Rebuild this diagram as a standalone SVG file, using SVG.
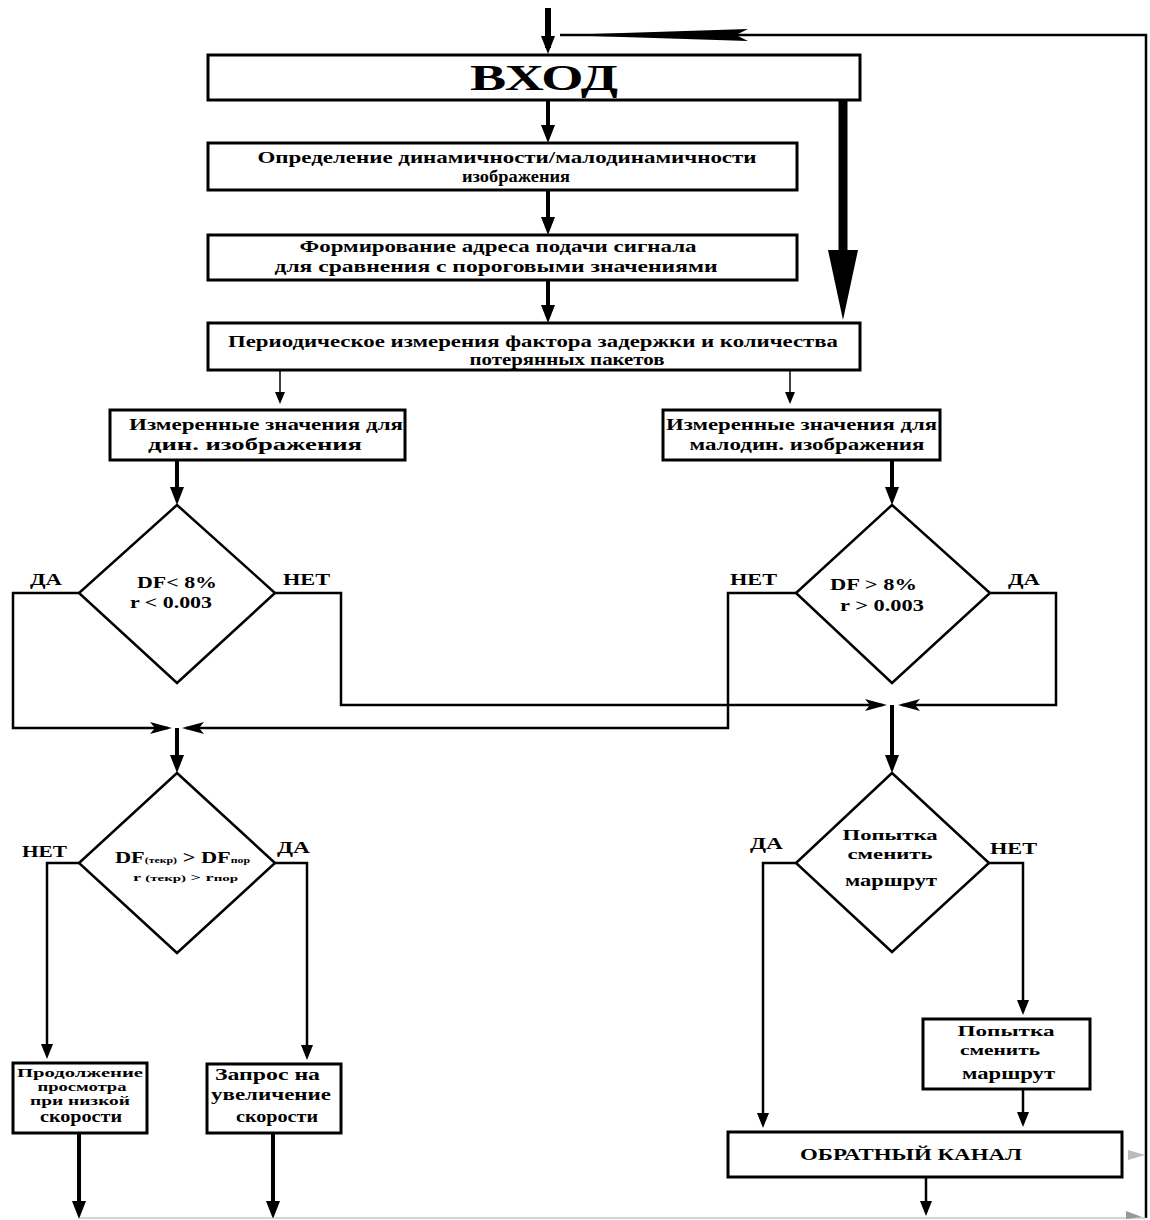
<svg xmlns="http://www.w3.org/2000/svg" width="1150" height="1220" viewBox="0 0 1150 1220">
<style>
.box{fill:#fff;stroke:#000;stroke-width:3}
.dia{fill:#fff;stroke:#000;stroke-width:2.5}
.t{font-family:"Liberation Serif","Times New Roman",serif;font-weight:bold;font-size:16.5px;fill:#000}
.m{text-anchor:middle}
.thick{fill:none;stroke:#000;stroke-width:4}
.med{fill:none;stroke:#000;stroke-width:2.5}
.thin{fill:none;stroke:#000;stroke-width:1.5}
.faint{fill:none;stroke:#aaa;stroke-width:1.2}
</style>
<defs>
<marker id="ah" markerUnits="userSpaceOnUse" markerWidth="20" markerHeight="16" refX="12" refY="7" orient="auto"><path d="M0,0 L18,7 L0,14 Z" fill="#000"/></marker>
<marker id="am" markerUnits="userSpaceOnUse" markerWidth="16" markerHeight="14" refX="11" refY="6" orient="auto"><path d="M0,0 L15,6 L0,12 Z" fill="#000"/></marker>
<marker id="as" markerUnits="userSpaceOnUse" markerWidth="14" markerHeight="12" refX="10" refY="5" orient="auto"><path d="M0,0 L12,5 L0,10 Z" fill="#000"/></marker>
<marker id="barb" markerUnits="userSpaceOnUse" markerWidth="24" markerHeight="14" refX="18" refY="6" orient="auto"><path d="M0,0 L22,6 L0,12 L5,6 Z" fill="#000"/></marker>
<marker id="big" markerUnits="userSpaceOnUse" markerWidth="74" markerHeight="32" refX="2" refY="15" orient="auto"><path d="M0,0 L70,15 L0,30 Z" fill="#000"/></marker>
<marker id="long" markerUnits="userSpaceOnUse" markerWidth="190" markerHeight="14" refX="188" refY="6" orient="auto"><path d="M188,6 L0,0 L12,6 L0,12 Z" fill="#000"/></marker>
</defs>

<g id="connectors">
<path class="med" d="M1146,1218 V35 H560" marker-end="url(#long)"/>
<line class="thick" x1="548" y1="8" x2="548" y2="48" style="stroke-width:6" marker-end="url(#ah)"/>
<line class="thick" x1="548" y1="100" x2="548" y2="137" marker-end="url(#ah)"/>
<line class="thick" x1="548" y1="190" x2="548" y2="229" marker-end="url(#ah)"/>
<line class="thick" x1="548" y1="280" x2="548" y2="317" marker-end="url(#ah)"/>
<line x1="843" y1="100" x2="843" y2="252" stroke="#000" stroke-width="9" marker-end="url(#big)"/>
<line class="thin" x1="280" y1="370" x2="280" y2="402" marker-end="url(#as)"/>
<line class="thin" x1="790" y1="370" x2="790" y2="402" marker-end="url(#as)"/>
<line class="thick" x1="177" y1="460" x2="177" y2="499" marker-end="url(#ah)"/>
<line class="thick" x1="892" y1="460" x2="892" y2="499" marker-end="url(#ah)"/>
<path class="med" d="M79,593 H13 V728 H168" marker-end="url(#barb)"/>
<path class="med" d="M796,593 H728 V728 H186" marker-end="url(#barb)"/>
<path class="med" d="M275,593 H341 V705 H883" marker-end="url(#barb)"/>
<path class="med" d="M990,593 H1056 V705 H902" marker-end="url(#barb)"/>
<line class="thick" x1="177" y1="728" x2="177" y2="767" marker-end="url(#ah)"/>
<line class="thick" x1="892" y1="705" x2="892" y2="767" marker-end="url(#ah)"/>
<path class="med" d="M79,863 H47 V1055" marker-end="url(#am)"/>
<path class="med" d="M275,863 H307 V1056" marker-end="url(#am)"/>
<path class="med" d="M796,863 H763 V1124" marker-end="url(#am)"/>
<path class="med" d="M989,863 H1023 V1011" marker-end="url(#am)"/>
<line class="med" x1="1023" y1="1089" x2="1023" y2="1123" marker-end="url(#am)"/>
<line class="thick" x1="79" y1="1133" x2="79" y2="1213" marker-end="url(#ah)"/>
<line class="thick" x1="273" y1="1133" x2="273" y2="1213" marker-end="url(#ah)"/>
<line class="med" x1="926" y1="1177" x2="926" y2="1212" marker-end="url(#am)"/>
<line class="faint" x1="79" y1="1218" x2="1146" y2="1218"/>
<path d="M1128,1150 L1145,1155 L1128,1160 Z" fill="#bbb"/>
<path d="M1126,1211 L1142,1217 L1126,1219 Z" fill="#999"/>
</g>

<g id="n_vhod">
<rect class="box" x="208" y="55" width="652" height="45"/>
<text class="t m" x="544" y="90" style="font-size:36px" textLength="148" lengthAdjust="spacingAndGlyphs">ВХОД</text>
</g>
<g id="n_opredelenie">
<rect class="box" x="208" y="143" width="589" height="47"/>
<text class="t m" x="507" y="163" textLength="499" lengthAdjust="spacingAndGlyphs">Определение динамичности/малодинамичности</text>
<text class="t m" x="516" y="182" textLength="108" lengthAdjust="spacingAndGlyphs">изображения</text>
</g>
<g id="n_formirovanie">
<rect class="box" x="208" y="235" width="589" height="45"/>
<text class="t m" x="498" y="252" textLength="397" lengthAdjust="spacingAndGlyphs">Формирование адреса подачи сигнала</text>
<text class="t m" x="496" y="272" textLength="443" lengthAdjust="spacingAndGlyphs">для сравнения с пороговыми значениями</text>
</g>
<g id="n_izmerenie">
<rect class="box" x="208" y="323" width="652" height="47"/>
<text class="t m" x="533" y="347" textLength="610" lengthAdjust="spacingAndGlyphs">Периодическое измерения фактора задержки и количества</text>
<text class="t m" x="567" y="365" textLength="195" lengthAdjust="spacingAndGlyphs">потерянных пакетов</text>
</g>
<g id="n_din">
<rect class="box" x="110" y="410" width="295" height="50"/>
<text class="t" x="129" y="430" textLength="274" lengthAdjust="spacingAndGlyphs">Измеренные значения для</text>
<text class="t m" x="255" y="450" textLength="214" lengthAdjust="spacingAndGlyphs">дин. изображения</text>
</g>
<g id="n_malodin">
<rect class="box" x="663" y="410" width="277" height="50"/>
<text class="t" x="666" y="430" textLength="271" lengthAdjust="spacingAndGlyphs">Измеренные значения для</text>
<text class="t m" x="807" y="450" textLength="235" lengthAdjust="spacingAndGlyphs">малодин. изображения</text>
</g>
<g id="n_d1">
<polygon class="dia" points="177,505 275,593 177,683 79,593"/>
<text class="t m" x="177" y="588" textLength="80" lengthAdjust="spacingAndGlyphs">DF&lt; 8%</text>
<text class="t m" x="171" y="608" textLength="82" lengthAdjust="spacingAndGlyphs">r &lt; 0.003</text>
<text class="t" x="30" y="585" textLength="32" lengthAdjust="spacingAndGlyphs">ДА</text>
<text class="t" x="283" y="585" textLength="47" lengthAdjust="spacingAndGlyphs">НЕТ</text>
</g>
<g id="n_d2">
<polygon class="dia" points="892,505 990,593 892,683 796,593"/>
<text class="t" x="830" y="590" textLength="87" lengthAdjust="spacingAndGlyphs">DF &gt; 8%</text>
<text class="t" x="840" y="611" textLength="84" lengthAdjust="spacingAndGlyphs">r &gt; 0.003</text>
<text class="t" x="730" y="585" textLength="47" lengthAdjust="spacingAndGlyphs">НЕТ</text>
<text class="t" x="1008" y="585" textLength="32" lengthAdjust="spacingAndGlyphs">ДА</text>
</g>
<g id="n_d3">
<polygon class="dia" points="177,773 275,863 177,953 79,863"/>
<text class="t" x="115" y="863" style="font-size:17px" textLength="135" lengthAdjust="spacingAndGlyphs">DF<tspan style="font-size:9px">(текр)</tspan> &gt; DF<tspan style="font-size:9px">пор</tspan></text>
<text class="t" x="133" y="881" style="font-size:11px" textLength="105" lengthAdjust="spacingAndGlyphs">r <tspan style="font-size:9px">(текр)</tspan> &gt; r<tspan style="font-size:9px">пор</tspan></text>
<text class="t" x="22" y="857" textLength="45" lengthAdjust="spacingAndGlyphs">НЕТ</text>
<text class="t" x="277" y="853" textLength="33" lengthAdjust="spacingAndGlyphs">ДА</text>
</g>
<g id="n_d4">
<polygon class="dia" points="892,773 989,863 892,952 796,863"/>
<text class="t m" x="890" y="840" style="font-size:15px" textLength="95" lengthAdjust="spacingAndGlyphs">Попытка</text>
<text class="t m" x="890" y="859" style="font-size:15px" textLength="85" lengthAdjust="spacingAndGlyphs">сменить</text>
<text class="t m" x="891" y="886" textLength="92" lengthAdjust="spacingAndGlyphs">маршрут</text>
<text class="t" x="750" y="849" textLength="33" lengthAdjust="spacingAndGlyphs">ДА</text>
<text class="t" x="990" y="854" textLength="47" lengthAdjust="spacingAndGlyphs">НЕТ</text>
</g>
<g id="n_popytka">
<rect class="box" x="923" y="1019" width="167" height="70"/>
<text class="t m" x="1006" y="1036" style="font-size:15px" textLength="97" lengthAdjust="spacingAndGlyphs">Попытка</text>
<text class="t" x="960" y="1055" style="font-size:15px" textLength="80" lengthAdjust="spacingAndGlyphs">сменить</text>
<text class="t" x="962" y="1079" textLength="93" lengthAdjust="spacingAndGlyphs">маршрут</text>
</g>
<g id="n_obratny">
<rect class="box" x="728" y="1132" width="394" height="45"/>
<text class="t" x="800" y="1160" textLength="222" lengthAdjust="spacingAndGlyphs">ОБРАТНЫЙ КАНАЛ</text>
</g>
<g id="n_prodolzhenie">
<rect class="box" x="13" y="1063" width="134" height="70"/>
<text class="t m" x="80" y="1077" style="font-size:13px" textLength="126" lengthAdjust="spacingAndGlyphs">Продолжение</text>
<text class="t m" x="82" y="1091" style="font-size:13px" textLength="89" lengthAdjust="spacingAndGlyphs">просмотра</text>
<text class="t m" x="80" y="1105" style="font-size:13px" textLength="100" lengthAdjust="spacingAndGlyphs">при низкой</text>
<text class="t m" x="81" y="1122" textLength="82" lengthAdjust="spacingAndGlyphs">скорости</text>
</g>
<g id="n_zapros">
<rect class="box" x="207" y="1064" width="134" height="69"/>
<text class="t" x="215" y="1080" textLength="105" lengthAdjust="spacingAndGlyphs">Запрос на</text>
<text class="t" x="211" y="1100" textLength="120" lengthAdjust="spacingAndGlyphs">увеличение</text>
<text class="t" x="236" y="1122" textLength="82" lengthAdjust="spacingAndGlyphs">скорости</text>
</g>
</svg>
